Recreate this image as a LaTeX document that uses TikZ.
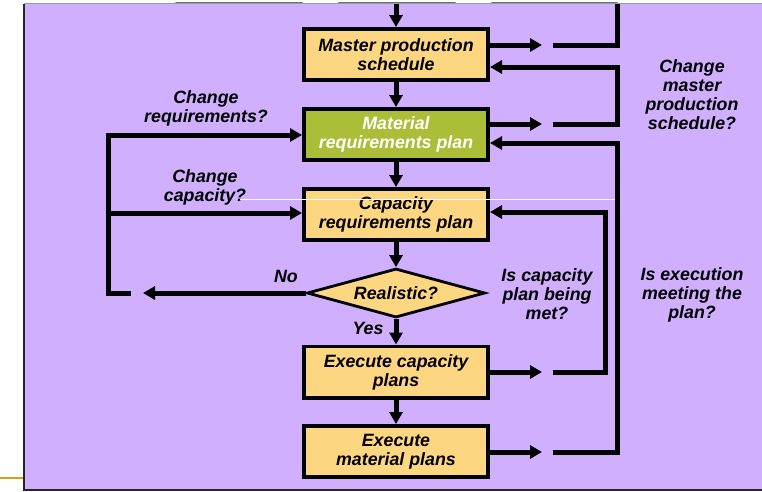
\documentclass[tikz,border=0pt]{standalone}
\usepackage{fontspec}
\setmainfont{Liberation Sans}
\usetikzlibrary{arrows.meta,shapes.geometric}
\definecolor{panel}{RGB}{207,175,254}
\definecolor{boxfill}{RGB}{253,214,130}
\definecolor{mrpgreen}{RGB}{172,189,56}
\definecolor{goldrule}{RGB}{212,160,18}
\definecolor{tabgray}{RGB}{105,112,112}
\begin{document}
\begin{tikzpicture}[x=1pt,y=-1pt,
  every node/.style={font=\fontsize{17.8}{19}\selectfont\bfseries\itshape,align=center},
  stepbox/.style={draw=black,line width=3.6pt,fill=boxfill,minimum width=184.4pt,minimum height=51.4pt,inner sep=0pt},
  decision/.style={draw=black,line width=2.8pt,fill=boxfill,shape=diamond,aspect=3.5,minimum width=178pt,minimum height=49pt,inner sep=0pt},
  flow/.style={line width=5pt,-{Triangle[length=12pt,width=13pt]}},
  link/.style={line width=5pt}]
\useasboundingbox (0,0) rectangle (762,491);

% panel
\fill[panel] (24,4) rectangle (762,490);
\draw[black!85,line width=1.8pt] (23.9,3.5) -- (23.9,490) -- (762,490);
\draw[tabgray!70,line width=0.8pt] (24,3.5) -- (762,3.5);
\foreach \a/\b in {176/302,339/455,492/617}
  \draw[tabgray,line width=1.6pt,line cap=round] (\a,2.6) -- (\b,2.6);
\draw[goldrule,line width=2pt] (0,478) -- (23,478);

% process steps
\node[stepbox] (mps) at (396,54.5) {Master production\\schedule};
\node[stepbox,fill=mrpgreen,text=white] (mrp) at (396,134.5) {Material\\requirements plan};
\node[stepbox] (crp) at (396,214.5) {Capacity\\requirements plan};
\node[decision] (real) at (396,293) {Realistic?};
\node[stepbox] (ecp) at (396,372) {Execute capacity\\plans};
\node[stepbox] (emp) at (396,451.5) {Execute\\material plans};

% main flow
\coordinate (top) at (396,4);
\draw[flow] (top) -- (mps.north);
\draw[flow] (mps) -- (mrp);
\draw[flow] (mrp) -- (crp);
\draw[flow] (crp) -- (real);
\draw[flow] (real) -- (ecp);
\draw[flow] (ecp) -- (emp);

% right-hand feedback loops
\coordinate (mpsOut) at (542,45);
\coordinate (mpsGap) at (553,45);
\coordinate (mpsUp) at (617,4);
\draw[flow] (mps.east |- mpsOut) -- (mpsOut);
\draw[link] (mpsGap) -| (mpsUp);

\coordinate (mrpOut) at (542,124);
\coordinate (mrpGap) at (553,124);
\coordinate (mpsRet) at (617,67);
\draw[flow] (mrp.east |- mrpOut) -- (mrpOut);
\draw[flow] (mrpGap) -| (mpsRet) -- (mps.east |- mpsRet);

\coordinate (ecpOut) at (542,372);
\coordinate (ecpGap) at (553,372);
\coordinate (crpRet) at (605,212);
\draw[flow] (ecp.east |- ecpOut) -- (ecpOut);
\draw[flow] (ecpGap) -| (crpRet) -- (crp.east |- crpRet);

\coordinate (empOut) at (542,452);
\coordinate (empGap) at (553,452);
\coordinate (mrpRet) at (617,143);
\draw[flow] (emp.east |- empOut) -- (empOut);
\draw[flow] (empGap) -| (mrpRet) -- (mrp.east |- mrpRet);

% left-hand loop
\coordinate (noTip) at (143,293);
\coordinate (leftEnd) at (131,293);
\coordinate (leftTop) at (108,135);
\coordinate (leftMid) at (108,213);
\draw[flow] (real.west) -- (noTip);
\draw[flow] (leftEnd) -| (leftTop) -- (mrp.west |- leftTop);
\draw[flow] (leftMid) -- (crp.west |- leftMid);

% questions and branch labels
\node (qReq) at (206,108) {Change\\requirements?};
\node (qCap) at (205,187.5) {Change\\capacity?};
\node (qMps) at (692,94.5) {Change\\master\\production\\schedule?};
\node (qNo) at (286,276) {No};
\node (qYes) at (368,328) {Yes};
\node (qMet) at (547,294.5) {Is capacity\\plan being\\met?};
\node (qExe) at (692,294.5) {Is execution\\meeting the\\plan?};

% thin white rule crossing the capacity step
\draw[white,line width=1pt] (240,199.5) -- (615,199.5);
\end{tikzpicture}
\end{document}
